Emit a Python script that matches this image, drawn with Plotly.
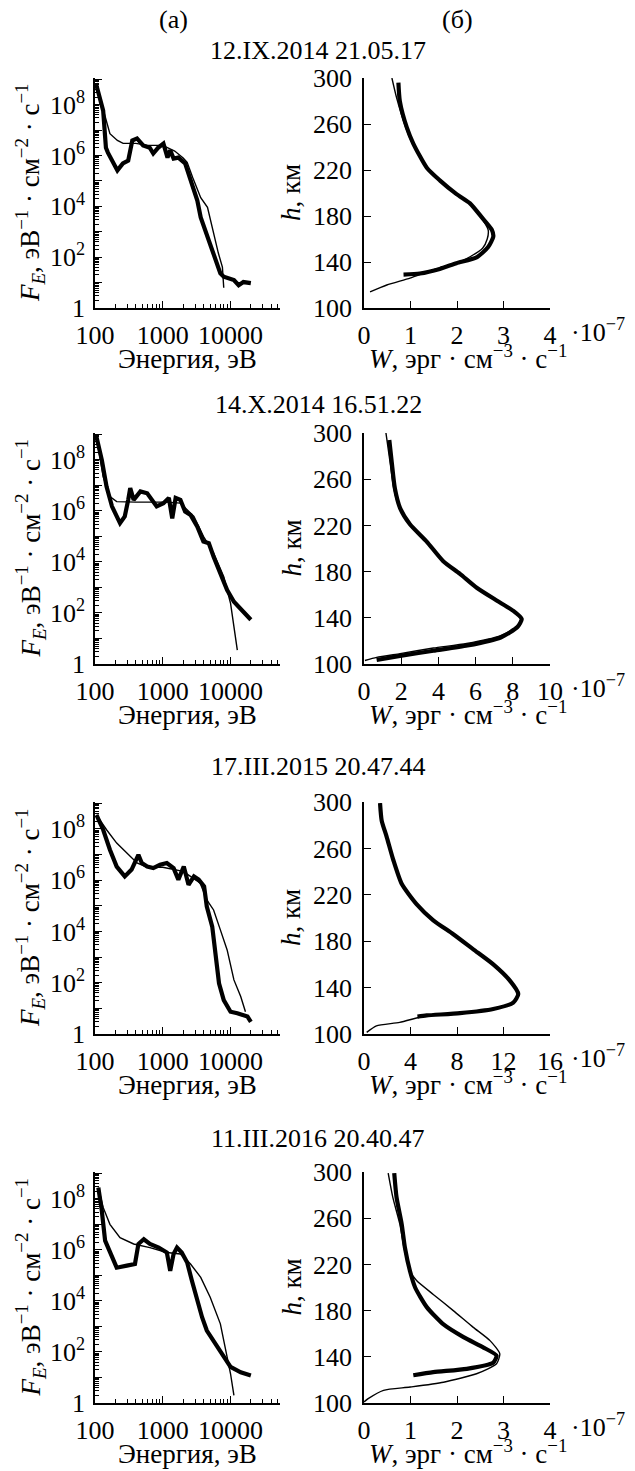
import plotly.graph_objects as go

# ---------------- data ----------------
# Panel (a): energy spectra F_E(E); thick = measured, thin = model
r1_thick_E = [103, 132, 145, 155, 214, 258, 309, 355, 417, 513, 646, 724, 851, 1023, 1175, 1288, 1445, 1698, 2138, 2570, 3236, 3631, 4266, 5012, 6026, 7079, 7943, 11220, 13180, 15490, 19950]
r1_thick_F = [7e8, 5.8e7, 2e6, 1.3e6, 2.6e5, 4.9e5, 6.3e5, 3.9e6, 4.7e6, 2.5e6, 2e6, 1.2e6, 2e6, 2.95e6, 8.3e5, 1.6e6, 7.6e5, 8.3e5, 4.9e5, 1.05e5, 1.7e4, 3.7e3, 1.15e3, 355, 76, 23, 17, 12.6, 7.9, 10.5, 9.5]
r1_thin_E = [103, 132, 166, 214, 260, 400, 600, 1000, 1500, 2000, 2291, 2754, 3631, 4571, 5623, 6607, 7586, 7943]
r1_thin_F = [7e8, 5.8e7, 7.2e6, 3.9e6, 3e6, 3e6, 2.5e6, 2.5e6, 1.5e6, 8e5, 5.4e5, 1.4e5, 2.2e4, 9.1e3, 870, 145, 41, 6.3]

r2_thick_E = [105, 126, 148, 178, 234, 275, 309, 331, 372, 468, 589, 813, 1023, 1230, 1380, 1549, 1820, 2138, 2570, 3236, 3981, 4786, 5623, 7079, 8913, 11220, 14130, 19950]
r2_thick_F = [8.1e8, 1e8, 8.9e6, 1.5e6, 3.3e5, 6e5, 2.7e6, 7.8e6, 2.7e6, 5.8e6, 4.9e6, 1.5e6, 2e6, 3.2e6, 5.1e5, 3.2e6, 2.7e6, 9.3e5, 6.9e5, 2.4e5, 6.3e4, 5.4e4, 1.6e4, 3.6e3, 790, 275, 150, 54]
r2_thin_E = [105, 132, 166, 209, 400, 1148, 1820, 2884, 3981, 5623, 7943, 10000, 11220, 12590]
r2_thin_F = [8.1e8, 2.2e7, 3.6e6, 2.3e6, 2.2e6, 2.2e6, 2e6, 6e5, 1e5, 2.2e4, 2.6e3, 240, 29, 3.5]

r3_thick_E = [105, 132, 166, 209, 275, 347, 437, 490, 589, 724, 912, 1148, 1445, 1698, 2042, 2399, 2884, 3388, 4074, 4467, 5370, 6026, 6761, 7943, 10000, 12590, 17780, 19950]
r3_thick_F = [3.5e8, 9.3e7, 1.55e7, 3.4e6, 1.4e6, 2.6e6, 9.8e6, 4.7e6, 3.4e6, 2.95e6, 4e6, 4.7e6, 2.95e6, 1.05e6, 3.4e6, 6.6e5, 1.4e6, 1.05e6, 5.8e5, 9.3e4, 1.55e4, 1.4e3, 95, 21, 7.4, 6.5, 4.8, 3]
r3_thin_E = [105, 148, 209, 295, 417, 589, 1000, 1995, 3548, 4467, 5623, 7079, 8913, 11220, 14130, 16600]
r3_thin_F = [3.5e8, 9.3e7, 2.8e7, 1.15e7, 4.7e6, 3.2e6, 3.2e6, 2.2e6, 7.9e5, 1.7e5, 6.9e4, 1.15e4, 1.9e3, 129, 29, 7.4]

r4_thick_E = [112, 126, 141, 166, 209, 295, 389, 437, 525, 646, 871, 1148, 1288, 1445, 1622, 1905, 2291, 2692, 3236, 3802, 4467, 5623, 7586, 10000, 14130, 19950]
r4_thick_F = [2.75e8, 3.4e7, 2.3e6, 7.9e5, 2e5, 2.4e5, 2.8e5, 1.7e6, 2.6e6, 1.7e6, 1.23e6, 7.9e5, 1.5e5, 6.9e5, 1.23e6, 7.9e5, 3.2e5, 6.2e4, 1e4, 2.3e3, 690, 280, 85, 26, 16, 12]
r4_thin_E = [112, 132, 166, 234, 372, 646, 1148, 1820, 2570, 3631, 5012, 7079, 8913, 10000, 11220]
r4_thin_F = [2.75e8, 4.6e7, 1e7, 3e6, 1.7e6, 1.23e6, 7.9e5, 6.9e5, 2.8e5, 8.3e4, 1.4e4, 1.26e3, 63, 14, 2]

# Panel (б): energy deposition W(h), units 1e-7; thick and thin curves
r1b_thick_W = [0.74, 0.77, 0.92, 1.06, 1.35, 1.63, 1.99, 2.28, 2.53, 2.75, 2.78, 2.67, 2.42, 1.99, 1.63, 1.2, 0.85]
r1b_thick_h = [296, 280, 257, 243, 222, 211, 199, 191, 179, 168, 162, 153, 144, 139, 134, 130, 129]
r1b_thin_W = [0.6, 0.7, 0.88, 1.03, 1.33, 1.6, 1.97, 2.26, 2.5, 2.67, 2.65, 2.55, 2.3, 2.05, 1.47, 0.99, 0.49, 0.13]
r1b_thin_h = [300, 283, 259, 244, 223, 212, 200, 192, 180, 168, 160, 152, 145, 140, 133, 126, 120, 114]

r2b_thick_W = [1.36, 1.49, 1.66, 1.94, 2.47, 3.37, 4.26, 5.16, 6.06, 7.13, 8.03, 8.48, 8.25, 7.35, 5.56, 3.73, 1.94, 0.68]
r2b_thick_h = [294, 275, 252, 235, 221, 206, 189, 178, 166, 155, 146, 139, 132, 123, 116, 111.5, 107, 103.5]
r2b_thin_W = [1.18, 1.4, 1.6, 1.9, 2.45, 3.35, 4.24, 5.14, 6.04, 7.1, 8.0, 8.42, 8.2, 7.31, 5.52, 3.73, 1.94, 0.68, 0.05]
r2b_thin_h = [300, 275, 252, 235, 221, 206, 189, 178, 166, 155, 146, 139, 132, 124.4, 117.8, 113.8, 109, 105.7, 103]

r3b_thick_W = [1.38, 1.52, 1.95, 2.52, 3.24, 4.52, 5.96, 7.68, 9.40, 11.12, 12.55, 13.27, 12.84, 11.12, 8.26, 5.39, 4.6]
r3b_thick_h = [299, 284, 270, 250, 229.5, 212, 198, 186, 173, 160, 146, 134.5, 127, 121.6, 118, 116, 115]
r3b_thin_W = [1.4, 1.55, 1.98, 2.55, 3.27, 4.55, 6.0, 7.7, 9.42, 11.1, 12.5, 13.2, 12.8, 11.1, 8.26, 5.39, 3.07, 1.07, 0.23]
r3b_thin_h = [299, 284, 270, 250, 229.5, 212, 198, 186, 173, 160, 146, 134.5, 127, 121.6, 118, 116, 110, 107, 101.4]

r4b_thick_W = [0.65, 0.70, 0.81, 0.88, 0.99, 1.10, 1.35, 1.71, 2.14, 2.57, 2.85, 2.78, 2.21, 1.49, 1.06]
r4b_thick_h = [299, 278, 255, 234.5, 214, 200, 183, 168, 157, 148, 141, 135, 129.6, 126.7, 124]
r4b_thin_W = [0.52, 0.62, 0.77, 0.86, 0.99, 1.13, 1.49, 1.92, 2.35, 2.71, 2.92, 2.85, 2.42, 1.71, 0.99, 0.42, 0.09, 0.0]
r4b_thin_h = [299, 278, 255, 234.5, 214, 206, 194, 180, 165.5, 154, 142.6, 134, 125.3, 118, 113.8, 111, 103.8, 101]

titles = ["12.IX.2014 21.05.17", "14.X.2014 16.51.22", "17.III.2015 20.47.44", "11.III.2016 20.40.47"]
w_max = [4, 10, 16, 4]
w_tick_step = [1, 2, 4, 1]
h_ticks = [100, 140, 180, 220, 260, 300]
e_ticks = [100, 1000, 10000]
e_ticktext = ["100", "1000", "10000"]
f_ticks = [1, 1e1, 1e2, 1e3, 1e4, 1e5, 1e6, 1e7, 1e8, 1e9]
f_ticktext = ["1", "", "10<sup>2</sup>", "", "10<sup>4</sup>", "", "10<sup>6</sup>", "", "10<sup>8</sup>", ""]

spectra = [
    (r1_thick_E, r1_thick_F, r1_thin_E, r1_thin_F),
    (r2_thick_E, r2_thick_F, r2_thin_E, r2_thin_F),
    (r3_thick_E, r3_thick_F, r3_thin_E, r3_thin_F),
    (r4_thick_E, r4_thick_F, r4_thin_E, r4_thin_F),
]
profiles = [
    (r1b_thick_W, r1b_thick_h, r1b_thin_W, r1b_thin_h),
    (r2b_thick_W, r2b_thick_h, r2b_thin_W, r2b_thin_h),
    (r3b_thick_W, r3b_thick_h, r3b_thin_W, r3b_thin_h),
    (r4b_thick_W, r4b_thick_h, r4b_thin_W, r4b_thin_h),
]

# ---------------- layout geometry (screen pixels of the reference) ----------------
OFF = 8                      # page body margin in the browser
W_PX, H_PX = 635 - OFF, 1471 - OFF
FONT = "Liberation Serif, Times New Roman, Times, serif"
FS = 26        # tick labels, row titles
FS_T = 27      # axis titles
row_px = [(78, 308), (433, 664), (802, 1034), (1172, 1403)]
title_y_px = [51, 404, 766, 1138]
left_x_px = (95, 280)
right_x_px = (364, 550)


def px_x(p):
    return (p - OFF) / W_PX


def px_y(p):
    return 1 - (p - OFF) / H_PX


minor_e = [k * 10 ** d for d in (2, 3) for k in range(2, 10)] + [20000, 30000, 40000, 50000]
minor_f = [k * 10 ** d for d in range(0, 9) for k in range(2, 10)]

fig = go.Figure()
layout = dict(
    template="none",
    width=W_PX, height=H_PX, autosize=False,
    margin=dict(l=0, r=0, t=0, b=0, pad=0, autoexpand=False),
    paper_bgcolor="white", plot_bgcolor="white",
    showlegend=False,
    font=dict(family=FONT, size=FS, color="black"),
)
annotations = []

axis_common = dict(showline=True, linecolor="black", linewidth=1.5, ticks="inside",
                   tickcolor="black", tickwidth=1.3, showgrid=False, zeroline=False,
                   automargin=False, mirror=False,
                   tickfont=dict(family=FONT, size=FS, color="black"))


def ann(text, x, y, size=FS, **kw):
    d = dict(text=text, x=px_x(x), y=px_y(y), xref="paper", yref="paper", showarrow=False,
             xanchor="center", yanchor="middle", borderpad=0,
             font=dict(family=FONT, size=size, color="black"))
    d.update(kw)
    annotations.append(d)


for i in range(4):
    top, bot = row_px[i]
    ydom = [px_y(bot), px_y(top)]
    xa_l = 2 * i + 1
    xa_r = 2 * i + 2
    nl = "" if xa_l == 1 else str(xa_l)
    nr = str(xa_r)

    tE, tF, nE, nF = spectra[i]
    fig.add_trace(go.Scatter(x=nE, y=nF, mode="lines", line=dict(color="black", width=1.4),
                             xaxis="x" + nl, yaxis="y" + nl))
    fig.add_trace(go.Scatter(x=tE, y=tF, mode="lines", line=dict(color="black", width=4.2),
                             xaxis="x" + nl, yaxis="y" + nl))

    tW, th, nW, nh = profiles[i]
    fig.add_trace(go.Scatter(x=nW, y=nh, mode="lines", line=dict(color="black", width=1.4, shape="spline", smoothing=0.6),
                             xaxis="x" + nr, yaxis="y" + nr))
    fig.add_trace(go.Scatter(x=tW, y=th, mode="lines", line=dict(color="black", width=4.2, shape="spline", smoothing=0.6),
                             xaxis="x" + nr, yaxis="y" + nr))

    layout["xaxis" + nl] = dict(axis_common, type="log", range=[2, 4.73],
                                domain=[px_x(left_x_px[0]), px_x(left_x_px[1])],
                                anchor="y" + nl, tickvals=e_ticks, ticktext=e_ticktext,
                                ticklen=7, ticklabelstandoff=3,
                                minor=dict(tickvals=minor_e, ticks="inside", ticklen=4,
                                           tickcolor="black", tickwidth=1.2, showgrid=False))
    layout["yaxis" + nl] = dict(axis_common, type="log", range=[0, 9.05],
                                domain=ydom, anchor="x" + nl, tickvals=f_ticks, ticktext=f_ticktext,
                                ticklen=7, ticklabelstandoff=3,
                                minor=dict(tickvals=minor_f, ticks="inside", ticklen=4,
                                           tickcolor="black", tickwidth=1.0, showgrid=False))
    wt = list(range(0, w_max[i] + 1, w_tick_step[i]))
    layout["xaxis" + nr] = dict(axis_common, range=[0, w_max[i]],
                                domain=[px_x(right_x_px[0]), px_x(right_x_px[1])],
                                anchor="y" + nr, tickvals=wt, ticktext=[str(v) for v in wt],
                                ticklen=7, ticklabelstandoff=3)
    layout["yaxis" + nr] = dict(axis_common, range=[100, 300], domain=ydom, anchor="x" + nr,
                                tickvals=h_ticks, ticktext=[str(v) for v in h_ticks],
                                ticklen=7, ticklabelstandoff=5)

    ann(titles[i], 318, title_y_px[i])
    ymid = (top + bot) / 2
    ann("<i>F<sub>E</sub></i>, эВ<sup>−1</sup> · см<sup>−2</sup> · с<sup>−1</sup>", 30, ymid, size=FS_T, textangle=-90)
    ann("<i>h</i>, км", 291, ymid, size=FS_T, textangle=-90)
    ann("Энергия, эВ", 187, bot + 67, size=FS_T, yanchor="bottom")
    ann("<i>W</i>, эрг · см<sup>−3</sup> · с<sup>−1</sup>", 468, bot + 67, size=FS_T, yanchor="bottom")
    ann("·10<sup>−7</sup>", 570, bot + 40, xanchor="left", yanchor="bottom")

ann("(a)", 173, 20)
ann("(б)", 457, 20)

layout["annotations"] = annotations
fig.update_layout(**layout)
fig.write_html("out.html")
